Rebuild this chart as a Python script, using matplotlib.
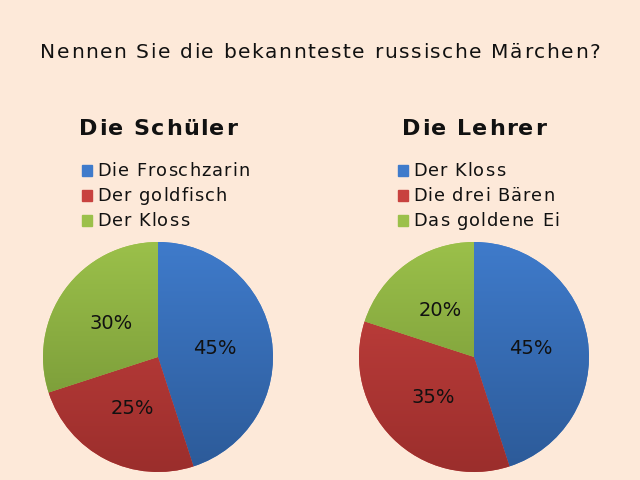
import matplotlib

matplotlib.use("Agg")
import matplotlib.pyplot as plt
import numpy as np
from matplotlib.colors import to_rgb
from matplotlib.font_manager import FontProperties, findfont
from matplotlib.ft2font import FT2Font

title = "Nennen Sie die bekannteste russische Märchen?"

left_title = "Die Schüler"
left_labels = ["Die Froschzarin", "Der goldfisch", "Der Kloss"]
left_values = [45, 25, 30]

right_title = "Die Lehrer"
right_labels = ["Der Kloss", "Die drei Bären", "Das goldene Ei"]
right_values = [45, 35, 20]

# top / bottom shades of the vertical gradient
colors_top = ["#3f7bcb", "#c8423f", "#9bc04a"]
colors_bottom = ["#2c5a98", "#9b2e2c", "#6f8f33"]

bg = "#fde9d9"
W, H, DPI = 640, 480, 100

fig = plt.figure(figsize=(W / DPI, H / DPI), dpi=DPI, facecolor=bg)


def spaced_text(x_px, y_px, s, size, spacing, weight="normal", ha="left"):
    # the reference text is letter-spaced, so place it glyph by glyph
    prop = FontProperties(family="DejaVu Sans", size=size, weight=weight)
    font = FT2Font(findfont(prop))
    font.set_size(size, DPI)
    advs = [font.load_char(ord(c)).linearHoriAdvance / 65536 for c in s]
    total = sum(advs) + spacing * (len(s) - 1)
    x = x_px - total / 2 if ha == "center" else x_px
    for c, a in zip(s, advs):
        if c != " ":
            fig.text(x / W, 1 - y_px / H, c, fontproperties=prop, ha="left",
                     va="baseline", color="#111111")
        x += a + spacing


spaced_text(320, 58, title, 14.5, 1.6, ha="center")


def gradient_pie(ax, values, legend_labels, subtitle, cx):
    wedges, texts, autotexts = ax.pie(
        values,
        colors=colors_top,
        startangle=90,
        counterclock=False,
        autopct="%d%%",
        pctdistance=0.5,
        textprops={"fontsize": 14, "color": "#111111"},
    )
    for w, ct, cb in zip(wedges, colors_top, colors_bottom):
        t = np.array(to_rgb(ct))
        b = np.array(to_rgb(cb))
        s = np.linspace(0, 1, 256)[:, None, None]
        img = np.repeat(t * (1 - s) + b * s, 2, axis=1)
        im = ax.imshow(img, extent=(-1, 1, -1, 1), origin="upper",
                       aspect="auto", zorder=w.get_zorder())
        im.set_clip_path(w)
    for t in autotexts:
        t.set_zorder(5)
    ax.set_xlim(-1.0, 1.0)
    ax.set_ylim(-1.0, 1.0)

    spaced_text(cx, 135, subtitle, 16, 1.4, weight="bold", ha="center")
    for i, (lab, c) in enumerate(zip(legend_labels, colors_top)):
        base = 176 + 25 * i
        fig.patches.append(plt.Rectangle(((cx - 76) / W, 1 - base / H), 10 / W, 11 / H,
                                         color=c, transform=fig.transFigure, figure=fig))
        spaced_text(cx - 61, base, lab, 12.8, 1.05)


ax1 = fig.add_axes([43 / W, 8 / H, 230 / W, 230 / H])
gradient_pie(ax1, left_values, left_labels, left_title, 158)

ax2 = fig.add_axes([359 / W, 8 / H, 230 / W, 230 / H])
gradient_pie(ax2, right_values, right_labels, right_title, 474)

fig.savefig("out.png", dpi=DPI, facecolor=bg)
